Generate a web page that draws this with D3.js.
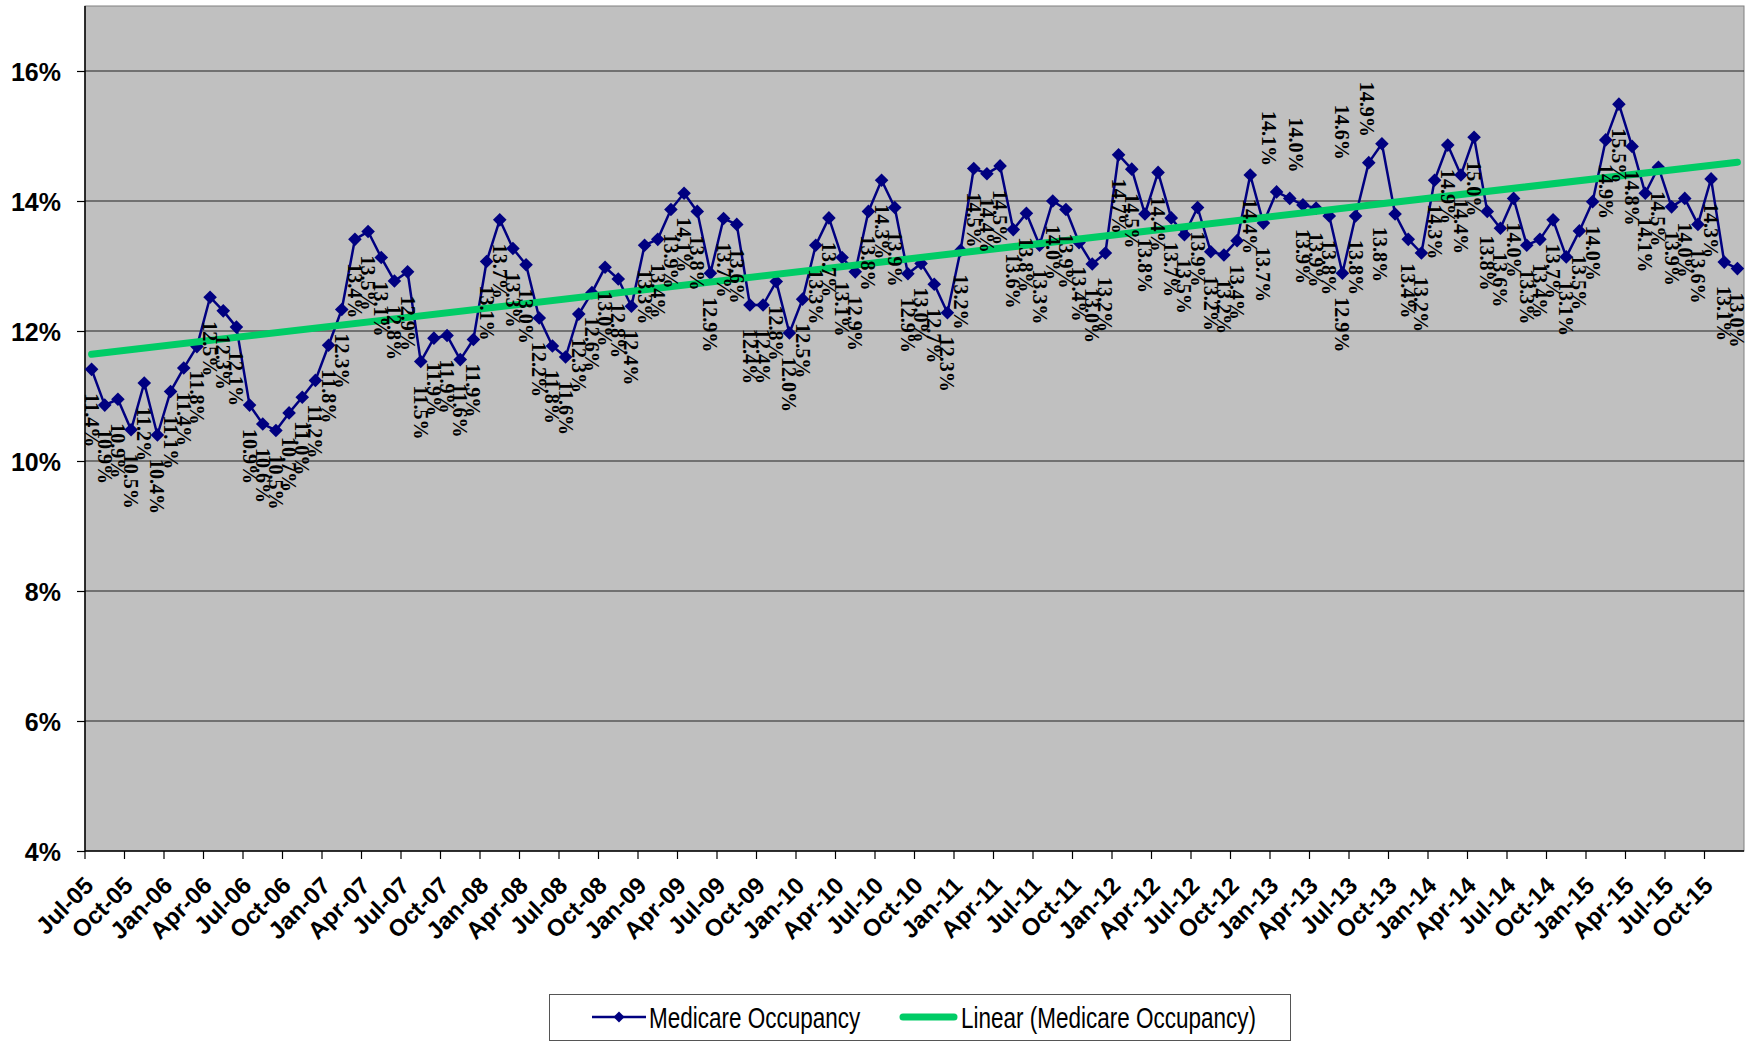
<!DOCTYPE html>
<html><head><meta charset="utf-8">
<script src="https://cdn.jsdelivr.net/npm/d3@7"></script>
<style>html,body{margin:0;padding:0;background:#fff;}svg{display:block;}</style>
</head><body>
<svg id="chart" width="1752" height="1041"></svg>
<script>
const categories = [
 "Jul-05","Aug-05","Sep-05","Oct-05","Nov-05","Dec-05",
 "Jan-06","Feb-06","Mar-06","Apr-06","May-06","Jun-06","Jul-06","Aug-06","Sep-06","Oct-06","Nov-06","Dec-06",
 "Jan-07","Feb-07","Mar-07","Apr-07","May-07","Jun-07","Jul-07","Aug-07","Sep-07","Oct-07","Nov-07","Dec-07",
 "Jan-08","Feb-08","Mar-08","Apr-08","May-08","Jun-08","Jul-08","Aug-08","Sep-08","Oct-08","Nov-08","Dec-08",
 "Jan-09","Feb-09","Mar-09","Apr-09","May-09","Jun-09","Jul-09","Aug-09","Sep-09","Oct-09","Nov-09","Dec-09",
 "Jan-10","Feb-10","Mar-10","Apr-10","May-10","Jun-10","Jul-10","Aug-10","Sep-10","Oct-10","Nov-10","Dec-10",
 "Jan-11","Feb-11","Mar-11","Apr-11","May-11","Jun-11","Jul-11","Aug-11","Sep-11","Oct-11","Nov-11","Dec-11",
 "Jan-12","Feb-12","Mar-12","Apr-12","May-12","Jun-12","Jul-12","Aug-12","Sep-12","Oct-12","Nov-12","Dec-12",
 "Jan-13","Feb-13","Mar-13","Apr-13","May-13","Jun-13","Jul-13","Aug-13","Sep-13","Oct-13","Nov-13","Dec-13",
 "Jan-14","Feb-14","Mar-14","Apr-14","May-14","Jun-14","Jul-14","Aug-14","Sep-14","Oct-14","Nov-14","Dec-14",
 "Jan-15","Feb-15","Mar-15","Apr-15","May-15","Jun-15","Jul-15","Aug-15","Sep-15","Oct-15","Nov-15","Dec-15"
];
// Medicare occupancy, percent
const occupancy = [
 11.41,10.86,10.95,10.48,11.20,10.40,
 11.07,11.43,11.76,12.52,12.31,12.06,10.86,10.57,10.47,10.74,10.98,11.24,
 11.78,12.33,13.41,13.53,13.13,12.77,12.91,11.53,11.89,11.93,11.56,11.87,
 13.07,13.71,13.27,13.02,12.20,11.77,11.60,12.26,12.59,12.98,12.80,12.38,
 13.32,13.41,13.87,14.12,13.84,12.89,13.73,13.64,12.40,12.40,12.76,11.97,
 12.49,13.32,13.74,13.13,12.91,13.84,14.32,13.90,12.88,13.04,12.72,12.28,
 13.24,14.50,14.42,14.54,13.56,13.81,13.32,14.00,13.87,13.36,13.03,13.20,
 14.71,14.49,13.80,14.44,13.74,13.48,13.90,13.22,13.17,13.39,14.40,13.66,
 14.14,14.04,13.94,13.89,13.77,12.89,13.77,14.59,14.88,13.80,13.41,13.20,
 14.32,14.86,14.40,14.98,13.84,13.58,14.04,13.32,13.41,13.71,13.14,13.54,
 13.99,14.94,15.49,14.84,14.12,14.52,13.91,14.04,13.64,14.34,13.06,12.96
];
const tickLabels = ["Jul-05","Oct-05","Jan-06","Apr-06","Jul-06","Oct-06","Jan-07","Apr-07","Jul-07","Oct-07",
 "Jan-08","Apr-08","Jul-08","Oct-08","Jan-09","Apr-09","Jul-09","Oct-09","Jan-10","Apr-10","Jul-10","Oct-10",
 "Jan-11","Apr-11","Jul-11","Oct-11","Jan-12","Apr-12","Jul-12","Oct-12","Jan-13","Apr-13","Jul-13","Oct-13",
 "Jan-14","Apr-14","Jul-14","Oct-14","Jan-15","Apr-15","Jul-15","Oct-15"];
const yTicks = [4,6,8,10,12,14,16];
const seriesName = "Medicare Occupancy";
const trendName = "Linear (Medicare Occupancy)";

// manually dragged data labels in the original (label placement style, not data)
const labelPlacement = {
  "Jan-13": {above: true, dx: -8, gap: 26},
  "Feb-13": {above: true, dx: 6, gap: 26},
  "Aug-13": {above: true, dx: -27, gap: 3},
  "Sep-13": {above: true, dx: -15, gap: 7},
  "Oct-13": {above: false, dx: -15, gap: 13}
};

const svg = d3.select("#chart");
const L = 85, R = 1744, T = 6, B = 851;
const x = d3.scaleBand().domain(categories).range([L, R]).paddingInner(0).paddingOuter(0);
const bw = x.bandwidth();
const cx = c => x(c) + bw / 2;
const y = d3.scaleLinear().domain([4, 17]).range([B, T]);
const data = categories.map((c, i) => ({c, i, v: occupancy[i]}));

// plot background
svg.append("rect").attr("x", L).attr("y", T).attr("width", R - L).attr("height", B - T)
  .attr("fill", "#C0C0C0").attr("stroke", "#808080").attr("stroke-width", 1);

// gridlines
svg.append("g").selectAll("line").data(yTicks.filter(d => d > 4)).join("line")
  .attr("x1", L).attr("x2", R).attr("y1", d => y(d)).attr("y2", d => y(d))
  .attr("stroke", "#222").attr("stroke-width", 1);

// y axis
const yAxis = d3.axisLeft(y).tickValues(yTicks).tickFormat(d => d + "%").tickSize(8).tickSizeOuter(0);
const gy = svg.append("g").attr("transform", `translate(${L},0)`).call(yAxis);
gy.select(".domain").attr("stroke", "#000").attr("stroke-width", 1.5).attr("d", `M0,${T}V${B}`);
gy.selectAll(".tick line").attr("stroke", "#000").attr("stroke-width", 1.2);
gy.selectAll(".tick text").attr("x", -24).attr("dy", "0.36em")
  .style("font-family", "'Liberation Sans', Arial, sans-serif").style("font-weight", "bold")
  .style("font-size", "25px").attr("fill", "#000");

// x axis
const xAxis = d3.axisBottom(x).tickValues(tickLabels).tickSize(8).tickSizeOuter(0).offset(0);
const gx = svg.append("g").attr("transform", `translate(0,${B})`).call(xAxis);
gx.selectAll(".tick").attr("transform", d => `translate(${x(d)},0)`);
gx.select(".domain").attr("stroke", "#000").attr("stroke-width", 1.5).attr("d", `M${L},0H${R}`);
gx.selectAll(".tick line").attr("stroke", "#000").attr("stroke-width", 1.2);
gx.selectAll(".tick text")
  .attr("text-anchor", "end").attr("transform", "translate(10,36) rotate(-45)")
  .attr("x", 0).attr("y", 0).attr("dy", 0)
  .style("font-family", "'Liberation Sans', Arial, sans-serif").style("font-weight", "bold")
  .style("font-size", "24px").attr("fill", "#000");

// series line
const line = d3.line().x(d => cx(d.c)).y(d => y(d.v));
svg.append("path").datum(data).attr("d", line).attr("fill", "none")
  .attr("stroke", "#000080").attr("stroke-width", 2.5).attr("stroke-linejoin", "round");

// markers
const diamond = {draw(ctx, size) { const r = Math.sqrt(size / 2); ctx.moveTo(0, -r); ctx.lineTo(r, 0); ctx.lineTo(0, r); ctx.lineTo(-r, 0); ctx.closePath(); }};
const sym = d3.symbol().type(diamond).size(2 * 6.8 * 6.8);
svg.append("g").selectAll("path").data(data).join("path")
  .attr("transform", d => `translate(${cx(d.c)},${y(d.v)})`).attr("d", sym).attr("fill", "#000080");

// linear trend (least squares)
const n = data.length;
const mx = d3.mean(data, d => d.i), my = d3.mean(data, d => d.v);
const slope = d3.sum(data, d => (d.i - mx) * (d.v - my)) / d3.sum(data, d => (d.i - mx) ** 2);
const icpt = my - slope * mx;
const trend = [data[0], data[n - 1]].map(d => ({c: d.c, v: icpt + slope * d.i}));
svg.append("path").datum(trend).attr("d", line).attr("fill", "none")
  .attr("stroke", "#00CC66").attr("stroke-width", 7).attr("stroke-linecap", "round");

// data labels
const fmt = d3.format(".1f");
const place = c => labelPlacement[c] || {above: false, dx: 0, gap: 24};
svg.append("g").selectAll("text").data(data).join("text")
  .attr("transform", d => {
    const p = place(d.c);
    return `translate(${cx(d.c) + p.dx},${y(d.v) + (p.above ? -p.gap : p.gap)}) rotate(90)`;
  })
  .attr("text-anchor", d => place(d.c).above ? "end" : "start")
  .attr("dominant-baseline", "central")
  .style("font-family", "'Liberation Serif', 'Times New Roman', serif").style("font-weight", "bold")
  .style("font-size", "20px").attr("fill", "#000")
  .text(d => fmt(d.v) + "%");

// legend
const lg = svg.append("g");
lg.append("rect").attr("x", 549.5).attr("y", 994.5).attr("width", 741).attr("height", 46)
  .attr("fill", "#fff").attr("stroke", "#555").attr("stroke-width", 1);
const ly = 1017;
lg.append("line").attr("x1", 592).attr("x2", 646).attr("y1", ly).attr("y2", ly)
  .attr("stroke", "#000080").attr("stroke-width", 2.5);
lg.append("path").attr("transform", `translate(619,${ly})`).attr("d", d3.symbol().type(diamond).size(2 * 5.5 * 5.5)()).attr("fill", "#000080");
lg.append("text").attr("transform", `translate(649,${ly + 11}) scale(1,1.3)`)
  .style("font-family", "'Liberation Sans', Arial, sans-serif").style("font-size", "22.5px").attr("fill", "#000")
  .text(seriesName);
lg.append("line").attr("x1", 903).attr("x2", 954).attr("y1", ly).attr("y2", ly)
  .attr("stroke", "#00CC66").attr("stroke-width", 7).attr("stroke-linecap", "round");
lg.append("text").attr("transform", `translate(961,${ly + 11}) scale(1,1.3)`)
  .style("font-family", "'Liberation Sans', Arial, sans-serif").style("font-size", "22.5px").attr("fill", "#000")
  .text(trendName);
</script>
</body></html>
